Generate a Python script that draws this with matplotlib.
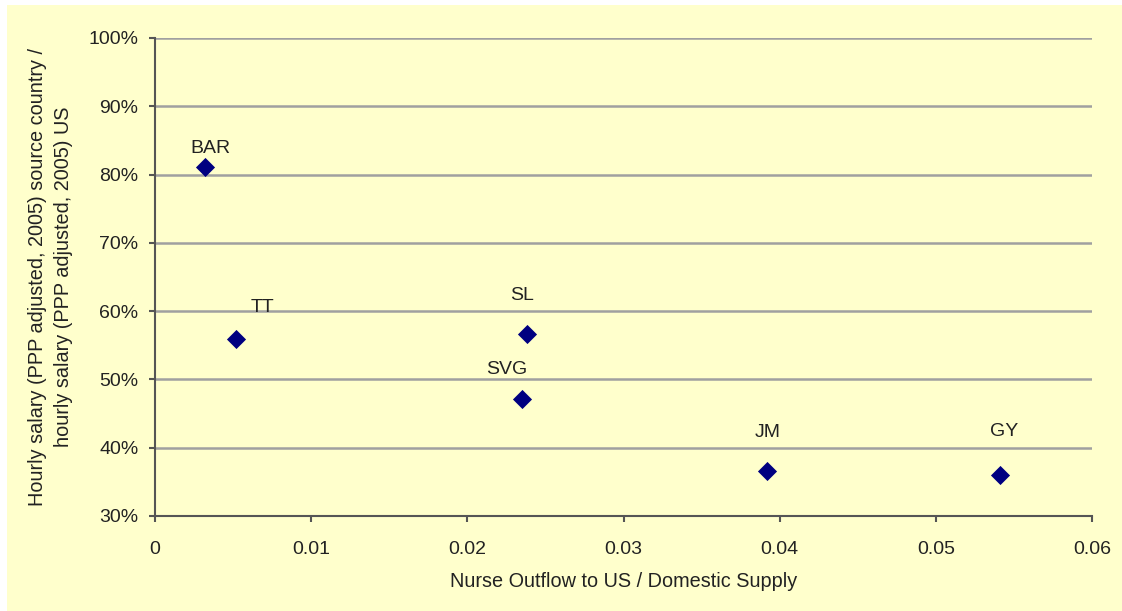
import matplotlib
matplotlib.use("Agg")
import matplotlib.pyplot as plt
from matplotlib.patches import Rectangle
from matplotlib.ticker import FuncFormatter

# Country codes and their values
countries = ["BAR", "TT", "SL", "SVG", "JM", "GY"]
outflow_ratio = [0.0032, 0.0052, 0.0238, 0.0235, 0.0392, 0.0541]
salary_ratio = [0.811, 0.559, 0.566, 0.471, 0.366, 0.360]

# Label offsets (points) relative to each marker
label_offsets = {
    "BAR": (3.6, 13.5),
    "TT": (18.7, 23),
    "SL": (-3.6, 28),
    "SVG": (-10.8, 21.5),
    "JM": (0.7, 28),
    "GY": (3, 31),
}

x_ticks = [0, 0.01, 0.02, 0.03, 0.04, 0.05, 0.06]
x_tick_labels = ["0", "0.01", "0.02", "0.03", "0.04", "0.05", "0.06"]
y_ticks = [0.3, 0.4, 0.5, 0.6, 0.7, 0.8, 0.9, 1.0]

BG = "#FFFFCC"
TEXT = "#222222"
FS = 14
FS_TITLE = 14.3
plt.rcParams["font.family"] = ["Liberation Sans", "DejaVu Sans"]

fig = plt.figure(figsize=(11.22, 6.11), dpi=100)
fig.patch.set_facecolor("white")
fig.patches.append(Rectangle((7 / 1122, 0), 1 - 7 / 1122, 1 - 5 / 611,
                             transform=fig.transFigure, facecolor=BG,
                             edgecolor="none", zorder=-10))

ax = fig.add_axes([155 / 1122, 95 / 611, 937 / 1122, 478 / 611])
ax.set_facecolor(BG)

ax.scatter(outflow_ratio, salary_ratio, marker="D", s=95, color="#000080",
           zorder=3, linewidths=0)

for name, x, y in zip(countries, outflow_ratio, salary_ratio):
    dx, dy = label_offsets[name]
    ax.annotate(name, (x, y), xytext=(dx, dy), textcoords="offset points",
                ha="center", va="center", fontsize=FS, color=TEXT)

ax.set_xlim(0, 0.06)
ax.set_ylim(0.3, 1.0)
ax.set_xticks(x_ticks)
ax.set_xticklabels(x_tick_labels)
ax.set_yticks(y_ticks)
ax.yaxis.set_major_formatter(FuncFormatter(lambda v, _: f"{v * 100:.0f}%"))

ax.grid(axis="y", color="#A0A0A0", linewidth=1.8)
ax.set_axisbelow(True)
for side in ("top", "right"):
    ax.spines[side].set_visible(False)
for side in ("left", "bottom"):
    ax.spines[side].set_color("#555555")
    ax.spines[side].set_linewidth(1.5)
ax.tick_params(axis="both", direction="out", length=4, width=1.5,
               color="#555555", labelsize=FS, labelcolor=TEXT)
ax.tick_params(axis="x", pad=14)
ax.tick_params(axis="y", pad=8)

ax.set_xlabel("Nurse Outflow to US / Domestic Supply", fontsize=FS_TITLE,
              color=TEXT, labelpad=10)
ax.set_ylabel("Hourly salary (PPP adjusted, 2005) source country /\n"
              "hourly salary (PPP adjusted, 2005) US", fontsize=FS_TITLE,
              color=TEXT, labelpad=11, linespacing=1.45)

fig.savefig("out.png", dpi=100, facecolor=fig.get_facecolor())
